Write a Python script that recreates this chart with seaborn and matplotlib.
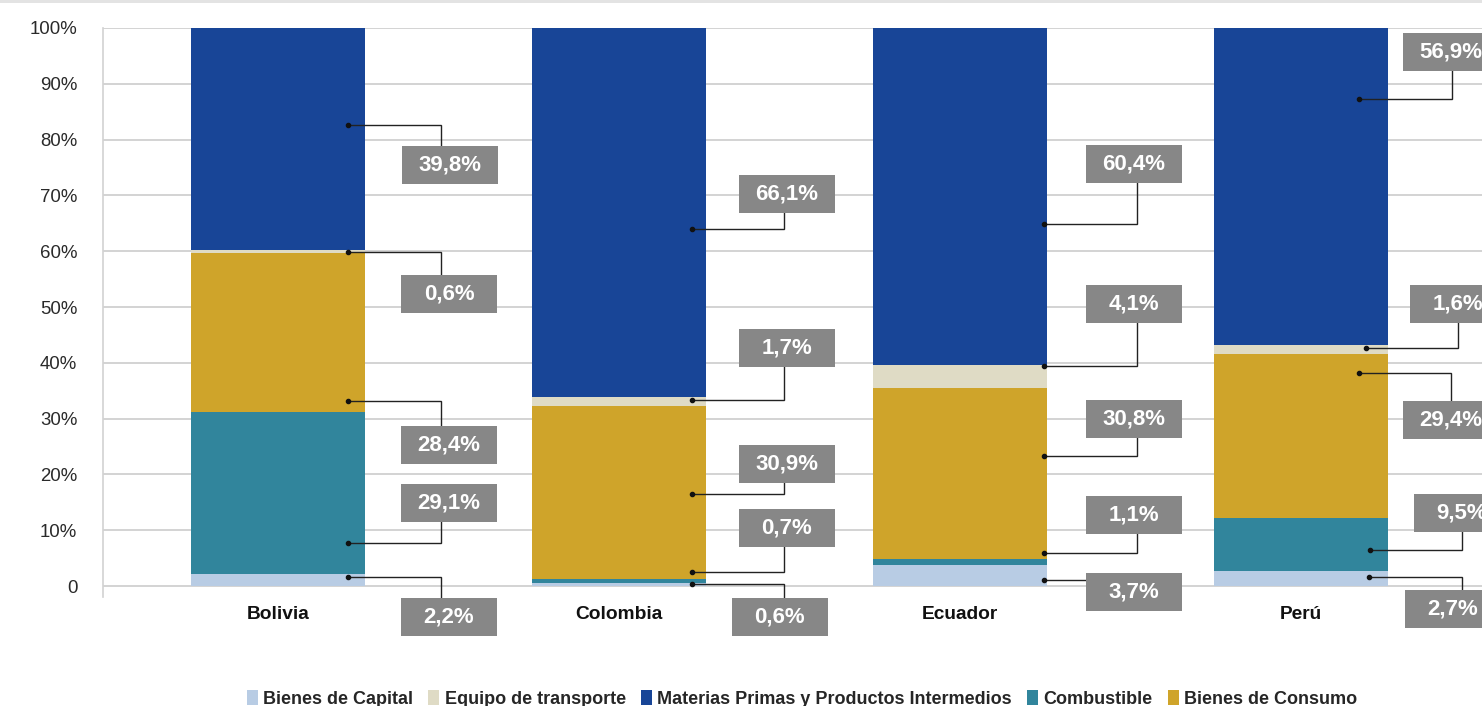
import numpy as np
import pandas as pd
import matplotlib
matplotlib.use("Agg")
import matplotlib.pyplot as plt
import seaborn as sns
from matplotlib.patches import Rectangle, Patch

# ---------------- data ----------------
countries = ["Bolivia", "Colombia", "Ecuador", "Perú"]
bienes_capital = [2.2, 0.6, 3.7, 2.7]
combustible = [29.1, 0.7, 1.1, 9.5]
bienes_consumo = [28.4, 30.9, 30.8, 29.4]
equipo_transporte = [0.6, 1.7, 4.1, 1.6]
materias_primas = [39.8, 66.1, 60.4, 56.9]

legend_names = ["Bienes de Capital", "Equipo de transporte",
                "Materias Primas y Productos Intermedios",
                "Combustible", "Bienes de Consumo"]
y_ticks = [0, 10, 20, 30, 40, 50, 60, 70, 80, 90, 100]
y_tick_labels = ["0", "10%", "20%", "30%", "40%", "50%", "60%", "70%",
                 "80%", "90%", "100%"]

# ---------------- styles ----------------
colors = {
    "Bienes de Capital": "#b8cce4",
    "Combustible": "#31859c",
    "Bienes de Consumo": "#cfa42a",
    "Equipo de transporte": "#dfdbc5",
    "Materias Primas y Productos Intermedios": "#184597",
}
# stacking order bottom -> top
stack_order = ["Bienes de Capital", "Combustible", "Bienes de Consumo",
               "Equipo de transporte", "Materias Primas y Productos Intermedios"]
series = {
    "Bienes de Capital": bienes_capital,
    "Combustible": combustible,
    "Bienes de Consumo": bienes_consumo,
    "Equipo de transporte": equipo_transporte,
    "Materias Primas y Productos Intermedios": materias_primas,
}

# label layout (annotation positions, data units):
# per country, per stacked series (bottom->top):
# (dot dx, dot y, elbow dx, box-left dx, box centre y)
label_layout = [
    [(0.205, 1.6, 0.478, 0.361, -5.6), (0.205, 7.7, 0.478, 0.361, 14.9),
     (0.205, 33.2, 0.478, 0.361, 25.3), (0.205, 59.9, 0.478, 0.361, 52.3),
     (0.205, 82.6, 0.478, 0.364, 75.4)],
    [(0.213, 0.4, 0.484, 0.331, -5.6), (0.213, 2.5, 0.484, 0.352, 10.4),
     (0.213, 16.5, 0.484, 0.352, 21.9), (0.213, 33.3, 0.484, 0.352, 42.7),
     (0.213, 63.9, 0.484, 0.352, 70.3)],
    [(0.246, 1.1, 0.518, 0.370, -1.1), (0.246, 5.9, 0.518, 0.370, 12.7),
     (0.246, 23.3, 0.518, 0.370, 29.9), (0.246, 39.4, 0.518, 0.370, 50.5),
     (0.246, 64.9, 0.518, 0.370, 75.6)],
    [(0.199, 1.6, 0.472, 0.305, -4.1), (0.202, 6.4, 0.472, 0.331, 13.1),
     (0.170, 38.2, 0.440, 0.299, 29.7), (0.191, 42.6, 0.460, 0.320, 50.5),
     (0.170, 87.3, 0.443, 0.299, 95.7)],
]
BOX_W = 0.2815
BOX_H = 6.81

sns.set_style("white")
plt.rcParams["font.family"] = ["Liberation Sans", "DejaVu Sans"]

fig = plt.figure(figsize=(14.82, 7.06), dpi=100)
ax = fig.add_axes([103 / 1482, 109 / 706, 1402.5 / 1482, 569 / 706])

# normalised shares (100% stacked)
df = pd.DataFrame(series, index=countries)
shares = df.div(df.sum(axis=1), axis=0) * 100
cum = shares[stack_order].cumsum(axis=1)

# draw from top cumulative down so each layer shows its own segment
for name in reversed(stack_order):
    sns.barplot(x=countries, y=cum[name].values, order=countries,
                color=colors[name], saturation=1, width=0.51,
                linewidth=0, errorbar=None, ax=ax, zorder=2)

ax.set_xlim(-0.513, 3.6)
ax.set_ylim(-1.97, 100)
ax.set_yticks(y_ticks)
ax.set_yticklabels(y_tick_labels)
ax.yaxis.grid(True, color="#cccccc", linewidth=1.2, zorder=0)
ax.xaxis.grid(False)
ax.set_axisbelow(True)
for s in ["top", "right", "bottom"]:
    ax.spines[s].set_visible(False)
ax.spines["left"].set_color("#d2d2d2")
ax.spines["left"].set_linewidth(1.2)
ax.tick_params(axis="y", length=8, width=1.2, color="#cccccc", pad=10.5,
               labelsize=13.4, labelcolor="#2a2a2a")
ax.tick_params(axis="x", length=0, pad=6.5, labelsize=13.8)
for lab in ax.get_xticklabels():
    lab.set_fontweight("bold")
    lab.set_color("#111111")
ax.set_xlabel("")
ax.set_ylabel("")

# data labels with leader lines
for i, c in enumerate(countries):
    for j, name in enumerate(stack_order):
        ddx, dy, edx, bdx, bcy = label_layout[i][j]
        val = series[name][i]
        ax.plot([i + ddx, i + edx, i + edx], [dy, dy, bcy], color="#222222",
                lw=1.0, zorder=4, clip_on=False, solid_joinstyle="miter")
        ax.plot([i + ddx], [dy], marker="o", ms=3, color="#111111",
                zorder=5, clip_on=False)
        ax.add_patch(Rectangle((i + bdx, bcy - BOX_H / 2), BOX_W, BOX_H,
                               facecolor="#878787", edgecolor="none",
                               zorder=6, clip_on=False))
        txt = f"{val:.1f}".replace(".", ",") + "%"
        ax.text(i + bdx + BOX_W / 2, bcy, txt, ha="center", va="center",
                color="white", fontsize=16, fontweight="bold", zorder=7,
                clip_on=False)

# legend
handles = [Patch(facecolor=colors[n], edgecolor="none") for n in legend_names]
fig.legend(handles, legend_names, loc="center",
           bbox_to_anchor=(802 / 1482, 7 / 706), ncol=5, frameon=False,
           prop={"weight": "bold", "size": 13.0},
           handlelength=0.6, handleheight=0.9, handletextpad=0.3,
           columnspacing=0.85, borderaxespad=0)

# thin grey strip at the top
fig.patches.append(Rectangle((0, 1 - 3 / 706), 1, 3 / 706,
                             transform=fig.transFigure, facecolor="#e3e3e3",
                             edgecolor="none", zorder=0))

fig.savefig("out.png", dpi=100)
